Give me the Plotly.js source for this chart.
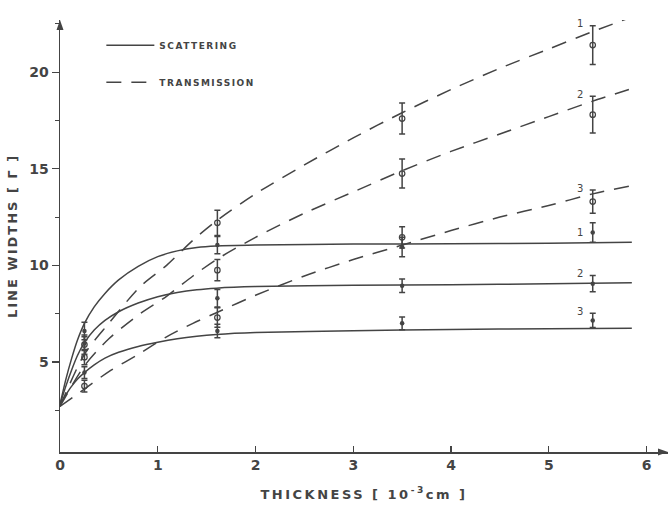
<!DOCTYPE html>
<html>
<head>
<meta charset="utf-8">
<script src="https://cdn.plot.ly/plotly-3.0.1.min.js"></script>
<style>
html,body{margin:0;padding:0;background:#fff;}
text.xtitle { letter-spacing: 2.5px; }
text.ytitle { letter-spacing: 2px; }
text.legendtext { letter-spacing: 1.5px; }
</style>
</head>
<body>
<div id="chart" style="width:669px;height:508px;"></div>
<script>
// Scattering curves (solid)
const scatX = [0, 0.06, 0.12, 0.18, 0.25, 0.35, 0.46, 0.6, 0.8, 1.0, 1.2, 1.4, 1.6, 2.0, 3.0, 4.0, 5.0, 5.85];
const scat1 = [2.8, 4.1, 5.2, 6.15, 7.0, 7.85, 8.55, 9.25, 9.95, 10.45, 10.75, 10.92, 11.0, 11.05, 11.1, 11.12, 11.15, 11.2];
const scat2 = [2.8, 3.75, 4.6, 5.35, 6.0, 6.65, 7.15, 7.6, 8.05, 8.38, 8.6, 8.74, 8.82, 8.9, 8.97, 9.0, 9.05, 9.1];
const scat3 = [2.8, 3.3, 3.75, 4.12, 4.45, 4.85, 5.2, 5.5, 5.8, 6.02, 6.2, 6.33, 6.42, 6.52, 6.62, 6.68, 6.72, 6.75];

// Transmission curves (dashed)
const transX = [0, 0.25, 0.5, 0.82, 1.09, 1.36, 1.6, 2.0, 2.5, 3.0, 3.5, 4.0, 4.5, 5.0, 5.45, 5.82];
const trans1 = [2.7, 5.4, 7.0, 8.9, 10.0, 11.3, 12.3, 13.7, 15.2, 16.6, 17.9, 19.1, 20.2, 21.2, 22.1, 22.8];
const trans2 = [2.7, 4.8, 6.2, 7.5, 8.4, 9.45, 10.3, 11.45, 12.7, 13.8, 14.9, 15.9, 16.8, 17.7, 18.5, 19.1];
const trans3 = [2.7, 3.6, 4.5, 5.45, 6.3, 7.0, 7.55, 8.45, 9.45, 10.3, 11.05, 11.8, 12.5, 13.1, 13.7, 14.1];

// Measured points
const ptX = [0.25, 1.61, 3.5, 5.45];
const t1 = [5.9, 12.2, 17.6, 21.4];   const t1Err = [0.5, 0.65, 0.8, 1.0];
const t2 = [5.25, 9.75, 14.75, 17.8]; const t2Err = [0.4, 0.55, 0.75, 0.95];
const t3 = [3.75, 7.3, 11.45, 13.3];  const t3Err = [0.3, 0.5, 0.55, 0.6];
const s1 = [6.6, 11.05, 10.95, 11.7]; const s1Err = [0.45, 0.45, 0.5, 0.5];
const s2 = [5.95, 8.3, 8.95, 9.05];   const s2Err = [0.35, 0.45, 0.35, 0.42];
const s3 = [4.45, 6.6, 7.0, 7.15];    const s3Err = [0.3, 0.35, 0.33, 0.37];

const curveLabels = ['1', '2', '3'];
const xTickVals = [0, 1, 2, 3, 4, 5, 6];
const yTickVals = [5, 10, 15, 20];

const ink = '#444444';
const font = 'DejaVu Sans, Arial, sans-serif';

function curve(x, y, dash, name, show, group) {
  return {x: x, y: y, mode: 'lines', type: 'scatter', name: name, showlegend: show,
    legendgroup: group,
    line: {color: ink, width: 1.5, dash: dash, shape: 'spline', smoothing: 0.8},
    hoverinfo: 'skip'};
}
function pts(y, err, open) {
  return {x: ptX, y: y, mode: 'markers', type: 'scatter', showlegend: false,
    marker: open ? {symbol: 'circle-open', size: 5.5, color: ink, line: {width: 1.2, color: ink}}
                 : {symbol: 'circle', size: 4.5, color: ink},
    error_y: {type: 'data', array: err, visible: true, color: ink, thickness: 1.5, width: 3}};
}

const traces = [
  curve(scatX, scat1, 'solid', 'SCATTERING', true, 'a'),
  curve(scatX, scat2, 'solid', 'SCATTERING', false, 'a'),
  curve(scatX, scat3, 'solid', 'SCATTERING', false, 'a'),
  curve(transX, trans1, '15px,10px', 'TRANSMISSION', true, 'b'),
  curve(transX, trans2, '15px,10px', 'TRANSMISSION', false, 'b'),
  curve(transX, trans3, '15px,10px', 'TRANSMISSION', false, 'b'),
  pts(t1, t1Err, true), pts(t2, t2Err, true), pts(t3, t3Err, true),
  pts(s1, s1Err, false), pts(s2, s2Err, false), pts(s3, s3Err, false)
];

const last = ptX.length - 1;
const annotations = [];
[[t1, t1Err], [t2, t2Err], [t3, t3Err], [s1, s1Err], [s2, s2Err], [s3, s3Err]].forEach((p, i) => {
  annotations.push({x: ptX[last], y: p[0][last] + p[1][last], xref: 'x', yref: 'y',
    text: curveLabels[i % 3], showarrow: false, xanchor: 'right', yanchor: 'middle',
    xshift: -8, yshift: i === 3 ? -10 : 2, font: {family: font, size: 10, color: ink}});
});

// axis arrow heads (decoration, in paper coordinates)
const pxX = 1 / 608, pxY = 1 / 432;
const shapes = [
  {type: 'path', xref: 'paper', yref: 'paper', fillcolor: ink, line: {width: 0},
   path: `M 0 1 L ${-3.5 * pxX} ${1 - 10 * pxY} L ${3.5 * pxX} ${1 - 10 * pxY} Z`},
  {type: 'path', xref: 'paper', yref: 'paper', fillcolor: ink, line: {width: 0},
   path: `M 1 0 L ${1 - 10 * pxX} ${3.5 * pxY} L ${1 - 10 * pxX} ${-3.5 * pxY} Z`}
];

const layout = {
  width: 669, height: 508,
  margin: {l: 60, r: 1, t: 20, b: 56},
  paper_bgcolor: '#ffffff', plot_bgcolor: '#ffffff',
  font: {family: font, color: ink},
  showlegend: true,
  legend: {x: 0.068, y: 0.975, xanchor: 'left', yanchor: 'top', bgcolor: 'rgba(0,0,0,0)',
    font: {family: font, size: 9, color: ink, weight: 'bold'}, tracegroupgap: 18, itemwidth: 48},
  xaxis: {
    range: [0, 6.22], tickvals: xTickVals, ticktext: xTickVals.map(String),
    ticks: 'inside', ticklen: 6, tickwidth: 1.2, tickcolor: ink,
    showline: true, linecolor: ink, linewidth: 1.5, showgrid: false, zeroline: false,
    tickfont: {family: font, size: 14, color: ink, weight: 'bold'},
    title: {text: 'THICKNESS [ 10<sup>-3</sup>cm ]', standoff: 17,
      font: {family: font, size: 13, color: ink, weight: 'bold'}}
  },
  yaxis: {
    range: [0.34, 22.7], tickvals: yTickVals, ticktext: yTickVals.map(String),
    ticks: 'outside', ticklen: 7, tickwidth: 1.2, tickcolor: ink,
    minor: {dtick: 2.5, tick0: 0, ticks: 'outside', ticklen: 4, tickcolor: ink, tickwidth: 1, showgrid: false},
    showline: true, linecolor: ink, linewidth: 1.5, showgrid: false, zeroline: false,
    tickfont: {family: font, size: 14, color: ink, weight: 'bold'},
    title: {text: 'LINE WIDTHS [ Γ ]', standoff: 8,
      font: {family: font, size: 13, color: ink, weight: 'bold'}}
  },
  annotations: annotations,
  shapes: shapes
};

Plotly.newPlot('chart', traces, layout, {displayModeBar: false, staticPlot: true});
</script>
</body>
</html>
